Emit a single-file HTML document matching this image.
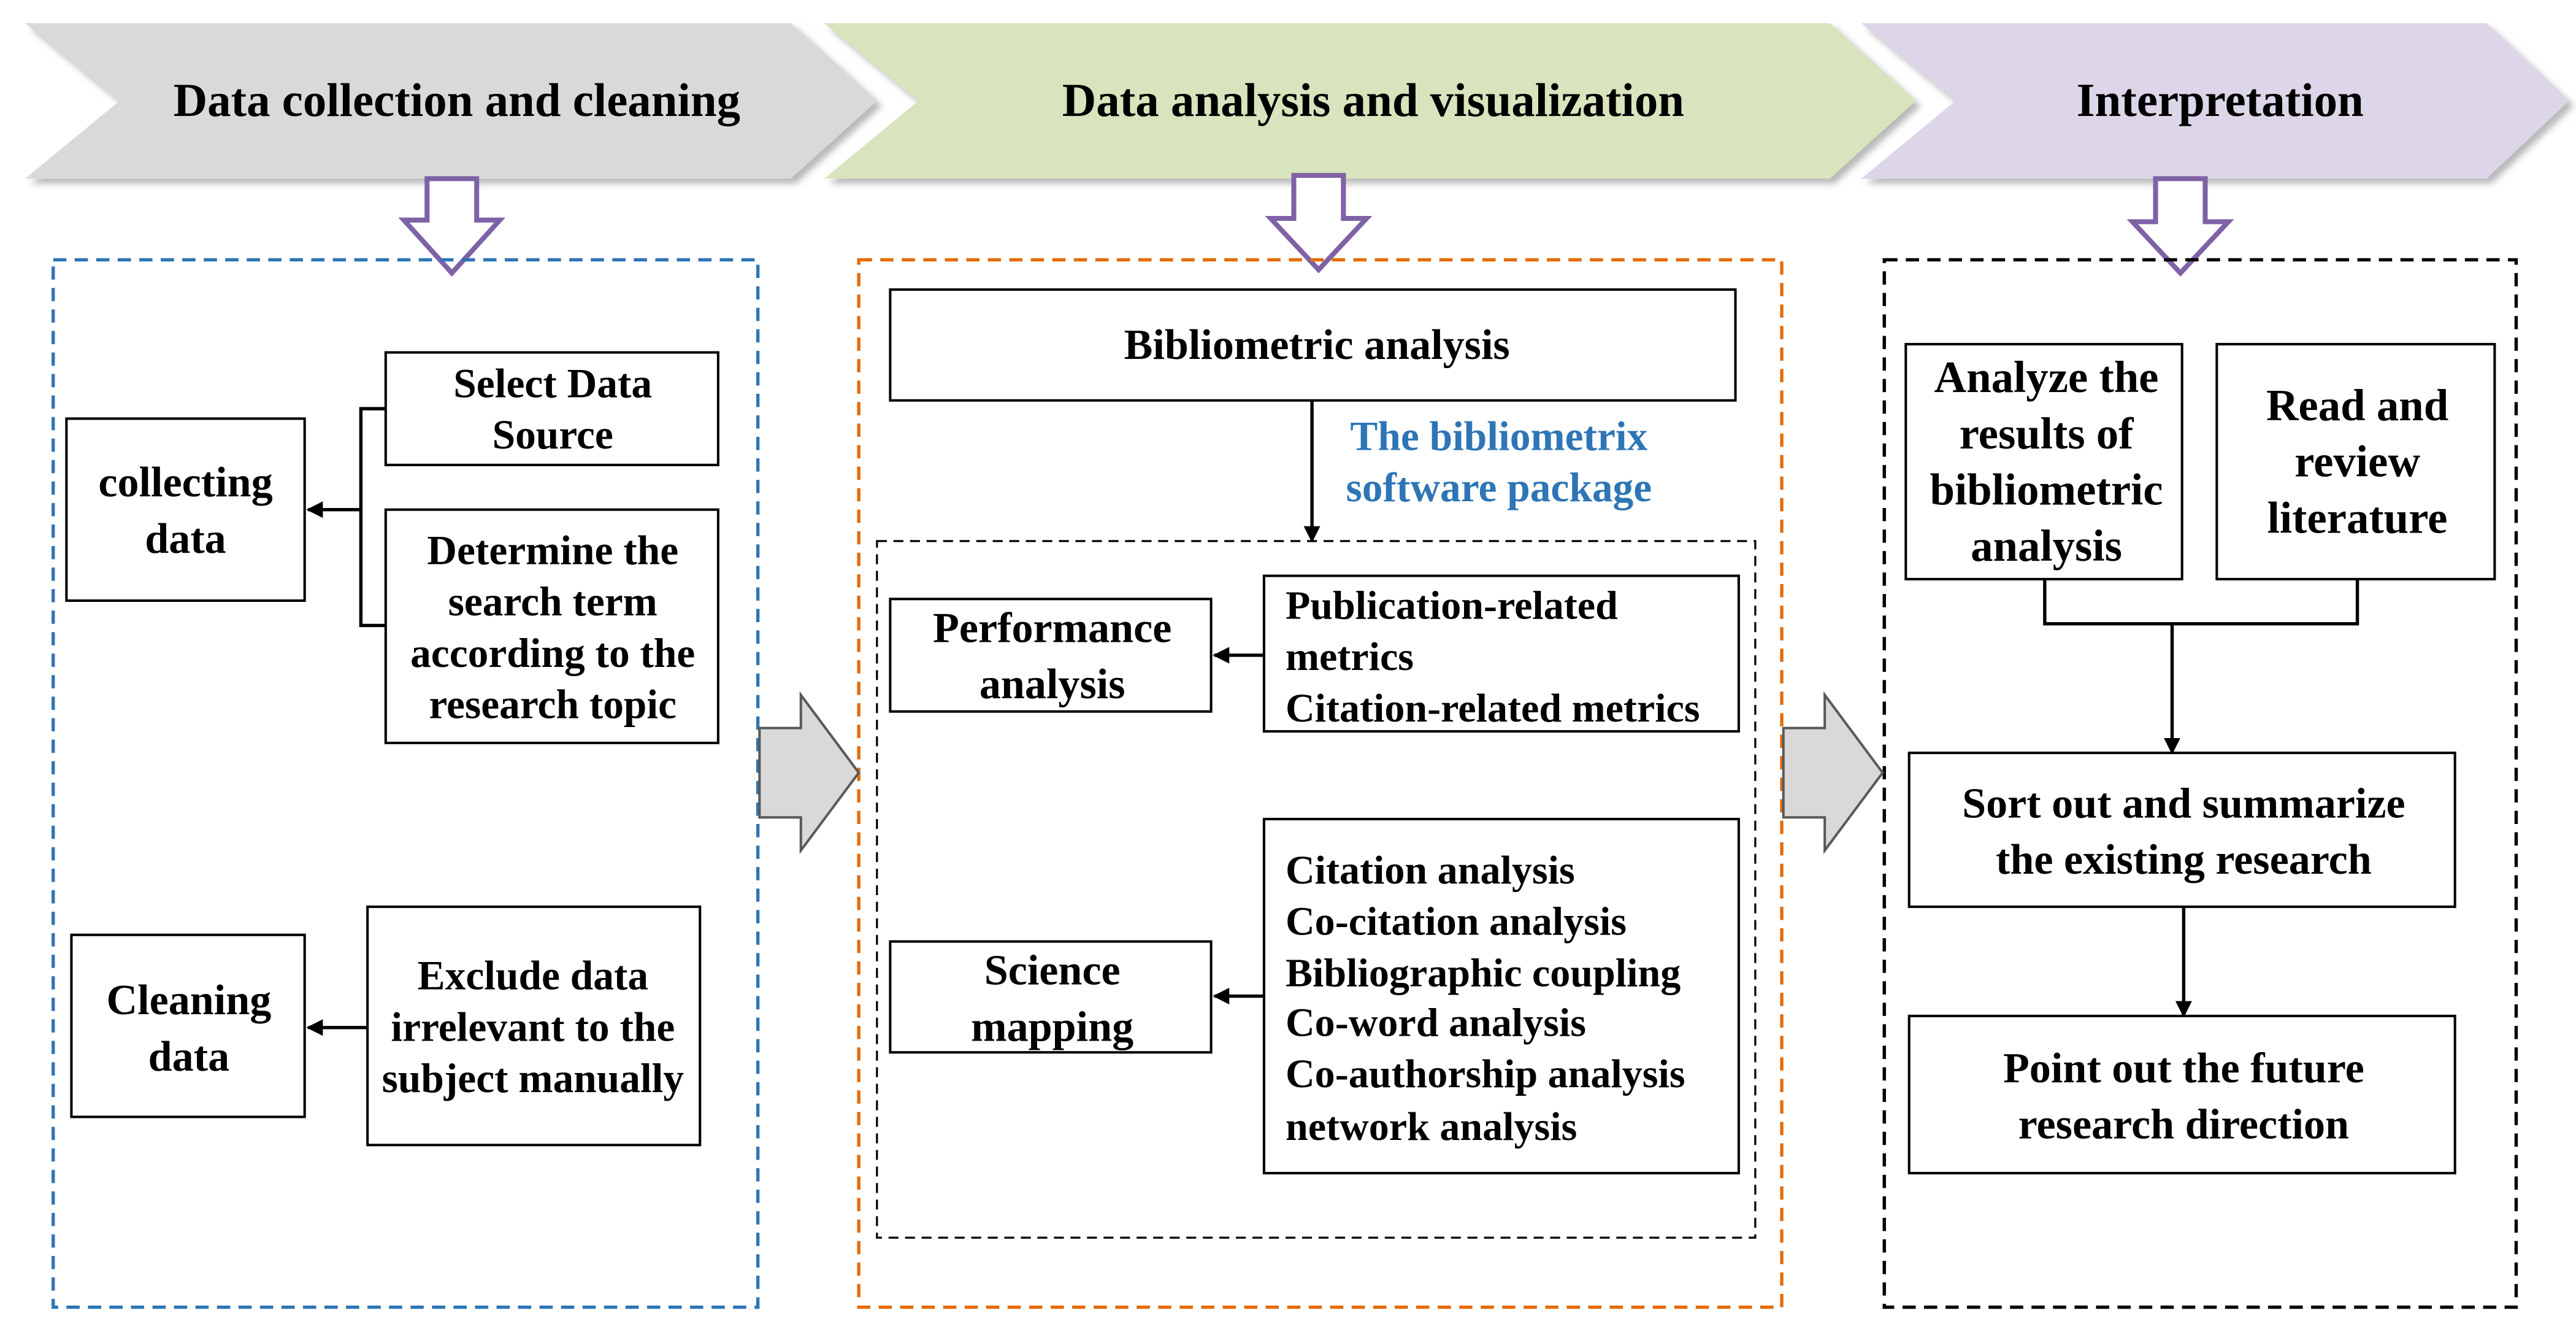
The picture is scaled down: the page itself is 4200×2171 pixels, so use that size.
<!DOCTYPE html>
<html><head><meta charset="utf-8"><style>
html,body{margin:0;padding:0;background:#fff;}
svg{display:block;}
text{font-family:"Liberation Serif",serif;font-weight:bold;fill:#000;}
</style></head><body>
<svg width="4200" height="2171" viewBox="0 0 1557 805" xmlns="http://www.w3.org/2000/svg">
<defs>
<marker id="ah" markerWidth="10" markerHeight="10" refX="9" refY="5" orient="auto" markerUnits="userSpaceOnUse"><path d="M0,0 L10,5 L0,10 Z" fill="#000"/></marker>
<filter id="sh"><feDropShadow dx="3" dy="3" stdDeviation="2" flood-color="#888" flood-opacity="0.6"/></filter>
</defs>
<polygon filter="url(#sh)" points="15,14 478,14 530,61 478,108 15,108 72,61" fill="#d9d9d9"/>
<polygon filter="url(#sh)" points="498,14 1106,14 1158,61 1106,108 498,108 555,61" fill="#d7e4bd"/>
<polygon filter="url(#sh)" points="1125,14 1503,14 1553,61 1503,108 1125,108 1182,61" fill="#dcd6e8"/>
<text x="276" y="70" font-size="28.5" text-anchor="middle">Data collection and cleaning</text>
<text x="830" y="70" font-size="28.5" text-anchor="middle">Data analysis and visualization</text>
<text x="1342" y="70" font-size="28.5" text-anchor="middle">Interpretation</text>
<g fill="#fff" stroke="#7f62a6" stroke-width="3">
<polygon points="258,108 288,108 288,133 302,133 273,165 244,133 258,133"/>
<polygon points="782,106 812,106 812,132 826,132 797,163 768,132 782,132"/>
<polygon points="1303,108 1333,108 1333,134 1347,134 1318,165 1289,134 1303,134"/>
</g>
<rect x="32" y="157" width="426" height="633" fill="none" stroke="#2e75b6" stroke-width="2" stroke-dasharray="8,5"/>
<rect x="519" y="157" width="558" height="633" fill="none" stroke="#e46c0a" stroke-width="2" stroke-dasharray="8,5"/>
<rect x="1139" y="157" width="382" height="633" fill="none" stroke="#000" stroke-width="2" stroke-dasharray="8,5"/>
<g fill="#d9d9d9" stroke="#595959" stroke-width="1.5">
<polygon points="459,440 484,440 484,420 519,467 484,514 484,494 459,494"/>
<polygon points="1078,440 1103,440 1103,420 1138,467 1103,514 1103,494 1078,494"/>
</g>
<g fill="#fff" stroke="#000" stroke-width="1.5">
<rect x="40" y="253" width="144" height="110"/>
<rect x="233" y="213" width="201" height="68"/>
<rect x="233" y="308" width="201" height="141"/>
<rect x="43" y="565" width="141" height="110"/>
<rect x="222" y="548" width="201" height="144"/>
<rect x="538" y="175" width="511" height="67"/>
<rect x="538" y="362" width="194" height="68"/>
<rect x="764" y="348" width="287" height="94"/>
<rect x="538" y="569" width="194" height="67"/>
<rect x="764" y="495" width="287" height="214"/>
<rect x="1152" y="208" width="167" height="142"/>
<rect x="1340" y="208" width="168" height="142"/>
<rect x="1154" y="455" width="330" height="93"/>
<rect x="1154" y="614" width="330" height="95"/>
</g>
<rect x="530" y="327" width="531" height="421" fill="none" stroke="#000" stroke-width="1.2" stroke-dasharray="6,4"/>
<g stroke="#000" stroke-width="2" fill="none">
<polyline points="233,247 218,247 218,378 233,378"/>
<line x1="218" y1="308" x2="186" y2="308" marker-end="url(#ah)"/>
<line x1="222" y1="621" x2="186" y2="621" marker-end="url(#ah)"/>
<line x1="793" y1="242" x2="793" y2="327" marker-end="url(#ah)"/>
<line x1="764" y1="396" x2="734" y2="396" marker-end="url(#ah)"/>
<line x1="764" y1="602" x2="734" y2="602" marker-end="url(#ah)"/>
<polyline points="1236,350 1236,377 1425,377 1425,350"/>
<line x1="1313" y1="377" x2="1313" y2="455" marker-end="url(#ah)"/>
<line x1="1320" y1="548" x2="1320" y2="614" marker-end="url(#ah)"/>
</g>
<g font-size="26" text-anchor="middle">
<text x="112" y="300">collecting</text><text x="112" y="334">data</text>
<text x="334" y="240" font-size="25">Select Data</text><text x="334" y="271" font-size="25">Source</text>
<text x="334" y="341" font-size="25">Determine the</text><text x="334" y="372" font-size="25">search term</text><text x="334" y="403" font-size="25">according to the</text><text x="334" y="434" font-size="25">research topic</text>
<text x="114" y="613">Cleaning</text><text x="114" y="647">data</text>
<text x="322" y="598" font-size="25">Exclude data</text><text x="322" y="629" font-size="25">irrelevant to the</text><text x="322" y="660" font-size="25">subject manually</text>
<text x="796" y="217">Bibliometric analysis</text>
<text x="906" y="272" font-size="25" style="fill:#2e75b6">The bibliometrix</text>
<text x="906" y="303" font-size="25" style="fill:#2e75b6">software package</text>
<text x="636" y="388">Performance</text><text x="636" y="422">analysis</text>
<text x="636" y="595">Science</text><text x="636" y="629">mapping</text>
<text x="1237" y="237" font-size="27">Analyze the</text><text x="1237" y="271" font-size="27">results of</text><text x="1237" y="305" font-size="27">bibliometric</text><text x="1237" y="339" font-size="27">analysis</text>
<text x="1425" y="254" font-size="27">Read and</text><text x="1425" y="288" font-size="27">review</text><text x="1425" y="322" font-size="27">literature</text>
<text x="1320" y="494">Sort out and summarize</text><text x="1320" y="528">the existing research</text>
<text x="1320" y="654">Point out the future</text><text x="1320" y="688">research direction</text>
</g>
<g font-size="24.5">
<text x="777" y="374">Publication-related</text><text x="777" y="405">metrics</text><text x="777" y="436">Citation-related metrics</text>
<text x="777" y="534">Citation analysis</text><text x="777" y="565">Co-citation analysis</text><text x="777" y="596">Bibliographic coupling</text><text x="777" y="626">Co-word analysis</text><text x="777" y="657">Co-authorship analysis</text><text x="777" y="689">network analysis</text>
</g>
</svg>
</body></html>
